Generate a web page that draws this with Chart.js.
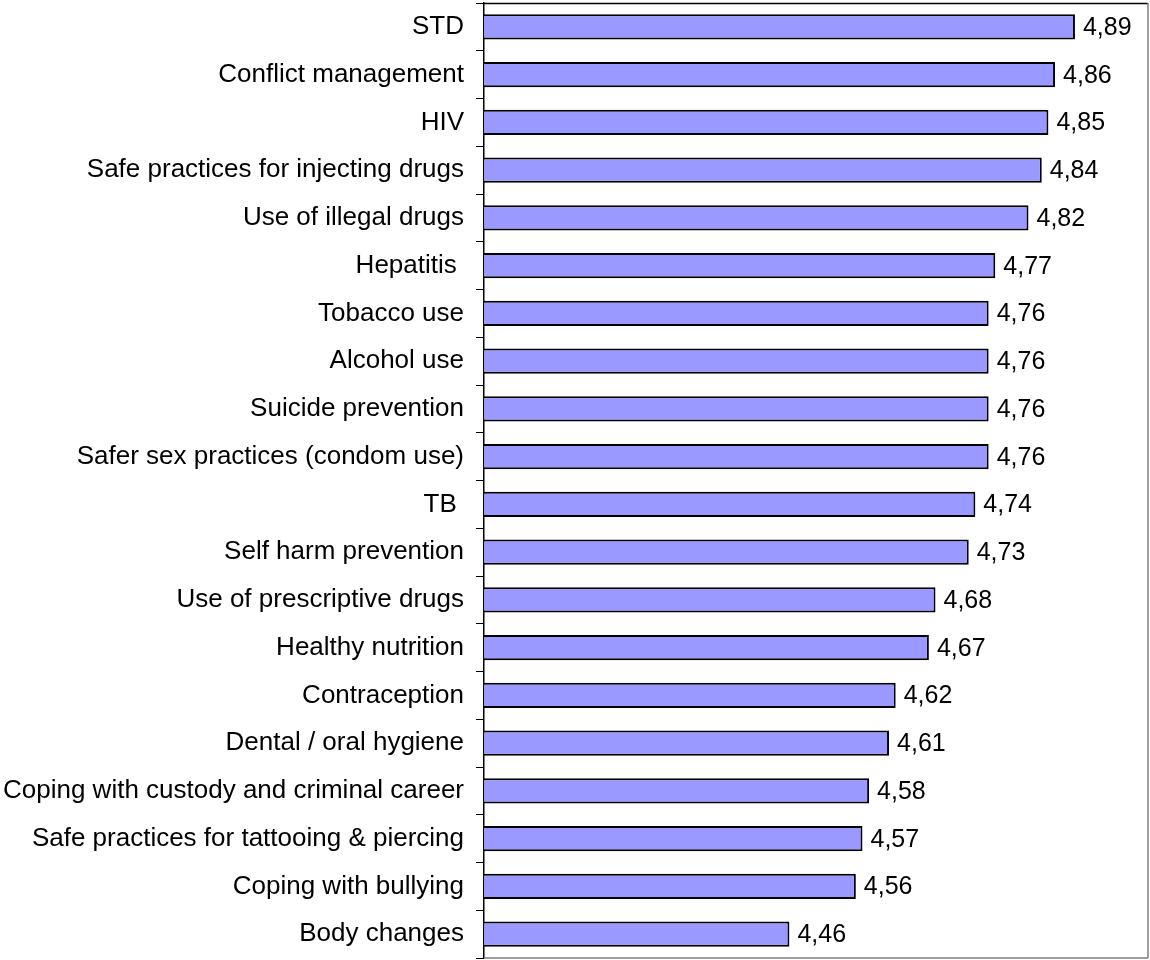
<!DOCTYPE html>
<html>
<head>
<meta charset="utf-8">
<script src="https://cdn.jsdelivr.net/npm/chart.js@4/dist/chart.umd.min.js"></script>
<style>
  html, body { margin: 0; padding: 0; background: #fff; }
  #wrap { width: 1150px; height: 960px; }
</style>
</head>
<body>
<div id="wrap"><canvas id="myChart" width="1150" height="960"></canvas></div>
<script>
var topics = [
    "STD", "Conflict management", "HIV", "Safe practices for injecting drugs",
    "Use of illegal drugs", "Hepatitis ", "Tobacco use", "Alcohol use",
    "Suicide prevention", "Safer sex practices (condom use)", "TB ",
    "Self harm prevention", "Use of prescriptive drugs", "Healthy nutrition",
    "Contraception", "Dental / oral hygiene", "Coping with custody and criminal career",
    "Safe practices for tattooing & piercing", "Coping with bullying", "Body changes"
];
var scores = [4.89, 4.86, 4.85, 4.84, 4.82, 4.77, 4.76, 4.76, 4.76, 4.76,
              4.74, 4.73, 4.68, 4.67, 4.62, 4.61, 4.58, 4.57, 4.56, 4.46];
var axisMin = 4;
var axisMax = 5;

var fontFamily = "'Liberation Sans', Arial, sans-serif";

// value next to every bar, decimal comma
var valueLabels = {
    id: 'valueLabels',
    afterDatasetsDraw: function (chart) {
        var ctx = chart.ctx;
        var meta = chart.getDatasetMeta(0);
        ctx.save();
        ctx.font = '25px ' + fontFamily;
        ctx.fillStyle = '#000';
        ctx.textAlign = 'left';
        ctx.textBaseline = 'middle';
        meta.data.forEach(function (bar, i) {
            var txt = scores[i].toFixed(2).replace('.', ',');
            ctx.fillText(txt, bar.x + 8, bar.y + 1);
        });
        ctx.restore();
    }
};

// plot area frame: top, right and bottom edges
var plotFrame = {
    id: 'plotFrame',
    beforeDatasetsDraw: function (chart) {
        var a = chart.chartArea;
        var ctx = chart.ctx;
        ctx.save();
        ctx.lineWidth = 1.5;
        ctx.strokeStyle = '#000';
        ctx.beginPath();
        ctx.moveTo(a.left, a.top + 0.5);
        ctx.lineTo(a.right, a.top + 0.5);
        ctx.stroke();
        ctx.strokeStyle = '#808080';
        ctx.beginPath();
        ctx.moveTo(a.right, a.top);
        ctx.lineTo(a.right, a.bottom);
        ctx.moveTo(a.left, a.bottom);
        ctx.lineTo(a.right, a.bottom);
        ctx.stroke();
        ctx.restore();
    }
};

var ctx = document.getElementById("myChart").getContext('2d');
var myChart = new Chart(ctx, {
    type: 'bar',
    data: {
        labels: topics,
        datasets: [{
            data: scores,
            backgroundColor: '#9999FF',
            borderColor: '#000',
            borderWidth: 2,
            borderSkipped: false,
            categoryPercentage: 1,
            barPercentage: 0.53
        }]
    },
    options: {
        indexAxis: 'y',
        responsive: false,
        animation: false,
        layout: { padding: { top: 3, right: 2, bottom: 2, left: 0 } },
        plugins: {
            legend: { display: false },
            tooltip: { enabled: false }
        },
        scales: {
            x: {
                display: false,
                min: axisMin,
                max: axisMax
            },
            y: {
                afterFit: function (scale) {
                    scale.width = 484;
                    scale.paddingTop = 0;
                    scale.paddingBottom = 0;
                },
                grid: {
                    display: true,
                    drawOnChartArea: false,
                    drawTicks: true,
                    tickLength: 8,
                    tickColor: '#000',
                    offset: true
                },
                border: { display: true, color: '#000', width: 1.5 },
                ticks: {
                    color: '#000',
                    padding: 12,
                    autoSkip: false,
                    font: { family: fontFamily, size: 26 }
                }
            }
        }
    },
    plugins: [plotFrame, valueLabels]
});
</script>
</body>
</html>
